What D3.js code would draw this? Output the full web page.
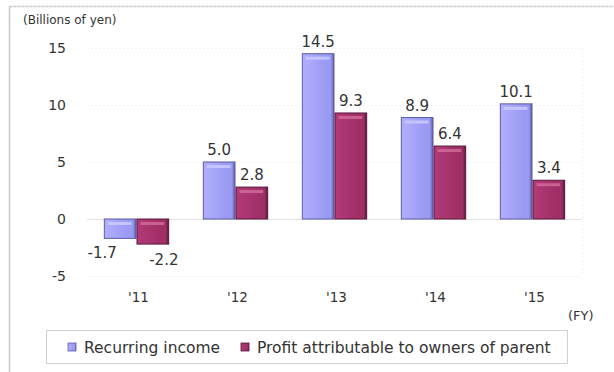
<!DOCTYPE html>
<html>
<head>
<meta charset="utf-8">
<script src="https://cdn.jsdelivr.net/npm/d3@7"></script>
<style>
  html, body { margin: 0; padding: 0; background: #fff; }
  svg { display: block; font-family: "DejaVu Sans", Verdana, sans-serif; }
</style>
</head>
<body>
<svg id="chart" width="614" height="372"></svg>
<script>
// Fiscal years and results (billions of yen)
const years = ["'11", "'12", "'13", "'14", "'15"];
const recurringIncome = [-1.7, 5.0, 14.5, 8.9, 10.1];
const profitToOwners = [-2.2, 2.8, 9.3, 6.4, 3.4];
const yTicks = [-5, 0, 5, 10, 15];
const seriesNames = ["Recurring income", "Profit attributable to owners of parent"];

const svg = d3.select("#chart");
const W = 614, H = 372;
const plot = { left: 87, right: 582, top: 48, bottom: 276 };
const textColor = "#333";
const fmt = v => d3.format(".1f")(v).replace("\u2212", "-");

const series = [
  { name: seriesNames[0], values: recurringIncome, light: "#b0affd", base: "#9b9af3", dark: "#5b5aa6", hi: "#cacaff", negShift: -18, negDy: 20 },
  { name: seriesNames[1], values: profitToOwners, light: "#b33a78", base: "#a02f66", dark: "#58183a", hi: "#d06a99", negShift: 11, negDy: 21 }
];

// Outer frame (top and left edges)
svg.append("line").attr("x1", 9.5).attr("x2", W).attr("y1", 6.5).attr("y2", 6.5)
  .attr("stroke", "#c8c8c8").attr("stroke-width", 1.5).attr("stroke-dasharray", "3,1");
svg.append("line").attr("x1", 9.5).attr("x2", 9.5).attr("y1", 6.5).attr("y2", H)
  .attr("stroke", "#c8c8c8").attr("stroke-width", 1.5);

const x = d3.scaleBand().domain(years).range([plot.left, plot.right]).paddingInner(0.34).paddingOuter(0.17);
const xs = d3.scaleBand().domain([0, 1]).range([0, x.bandwidth()]);
const y = d3.scaleLinear().domain([-5, 15]).range([plot.bottom, plot.top]);

// Gradients for the bevelled bars
const defs = svg.append("defs");
series.forEach((s, i) => {
  const g = defs.append("linearGradient").attr("id", "grad" + i)
    .attr("x1", "0").attr("x2", "1").attr("y1", "0").attr("y2", "0");
  g.append("stop").attr("offset", "0").attr("stop-color", s.light);
  g.append("stop").attr("offset", "0.75").attr("stop-color", s.base);
  g.append("stop").attr("offset", "0.9").attr("stop-color", s.base);
  g.append("stop").attr("offset", "1").attr("stop-color", s.dark);
});

// Faint gridlines and plot frame
svg.append("g").selectAll("line").data(yTicks.filter(t => t !== 0)).join("line")
  .attr("x1", plot.left).attr("x2", plot.right)
  .attr("y1", d => Math.round(y(d)) + 0.5).attr("y2", d => Math.round(y(d)) + 0.5)
  .attr("stroke", "#f0f0f0").attr("stroke-dasharray", "2,2");
svg.append("line").attr("x1", plot.right + 0.5).attr("x2", plot.right + 0.5)
  .attr("y1", plot.top).attr("y2", plot.bottom).attr("stroke", "#f0f0f0").attr("stroke-dasharray", "2,2");
svg.append("line").attr("x1", plot.left).attr("x2", plot.right)
  .attr("y1", Math.round(y(0)) + 0.5).attr("y2", Math.round(y(0)) + 0.5)
  .attr("stroke", "#e2e2e2");

// Y axis labels
const yAxis = d3.axisLeft(y).tickValues(yTicks).tickSize(0).tickPadding(0)
  .tickFormat(d => String(d));
svg.append("g").attr("transform", "translate(66,0)").call(yAxis)
  .call(g => g.select(".domain").remove())
  .call(g => g.selectAll("text").attr("fill", textColor).style("font-size", "14px")
    .style("font-family", "\"DejaVu Sans\", sans-serif"));

// X axis labels
const xAxis = d3.axisBottom(x).tickSize(0).tickPadding(0);
svg.append("g").attr("transform", "translate(2,292)").call(xAxis)
  .call(g => g.select(".domain").remove())
  .call(g => g.selectAll("text").attr("fill", textColor).style("font-size", "13.5px")
    .style("font-family", "\"DejaVu Sans\", sans-serif"));

// Bars
series.forEach((s, i) => {
  const g = svg.append("g");
  const rows = years.map((yr, j) => ({ yr, v: s.values[j] }));
  const bx = d => x(d.yr) + xs(i);
  const bw = xs.bandwidth();
  g.selectAll("rect.bar").data(rows).join("rect").attr("class", "bar")
    .attr("x", d => bx(d) + 0.5)
    .attr("y", d => Math.min(y(d.v), y(0)))
    .attr("width", bw - 1)
    .attr("height", d => Math.abs(y(d.v) - y(0)))
    .attr("fill", `url(#grad${i})`)
    .attr("stroke", s.dark).attr("stroke-width", 1);
  // highlight stripe at the bar's top edge
  g.selectAll("rect.hi").data(rows).join("rect").attr("class", "hi")
    .attr("x", d => bx(d) + 4)
    .attr("y", d => Math.min(y(d.v), y(0)) + 3)
    .attr("width", bw - 9)
    .attr("height", 3)
    .attr("fill", s.hi).attr("opacity", 0.85);
  // value labels
  g.selectAll("text").data(rows).join("text")
    .attr("x", d => bx(d) + bw / 2 + (d.v < 0 ? s.negShift : 0))
    .attr("y", d => d.v >= 0 ? y(d.v) - 7 : y(d.v) + s.negDy)
    .attr("text-anchor", "middle")
    .attr("fill", textColor)
    .style("font-size", "15px")
    .text(d => fmt(d.v));
});

// Unit labels
svg.append("text").attr("x", 23).attr("y", 24).attr("fill", textColor)
  .style("font-size", "12px").text("(Billions of yen)");
svg.append("text").attr("x", 568).attr("y", 320).attr("fill", textColor)
  .style("font-size", "13px").text("(FY)");

// Legend
const lg = svg.append("g");
lg.append("rect").attr("x", 46.5).attr("y", 330.5).attr("width", 521).attr("height", 33)
  .attr("fill", "#fff").attr("stroke", "#d0d0d0");
const legendX = [68, 241];
series.forEach((s, i) => {
  lg.append("rect").attr("x", legendX[i]).attr("y", 343).attr("width", 8).attr("height", 8)
    .attr("fill", `url(#grad${i})`).attr("stroke", s.dark).attr("stroke-width", 0.8);
  lg.append("text").attr("x", legendX[i] + 16).attr("y", 353).attr("fill", textColor)
    .style("font-size", "15.5px").text(s.name);
});
</script>
</body>
</html>
